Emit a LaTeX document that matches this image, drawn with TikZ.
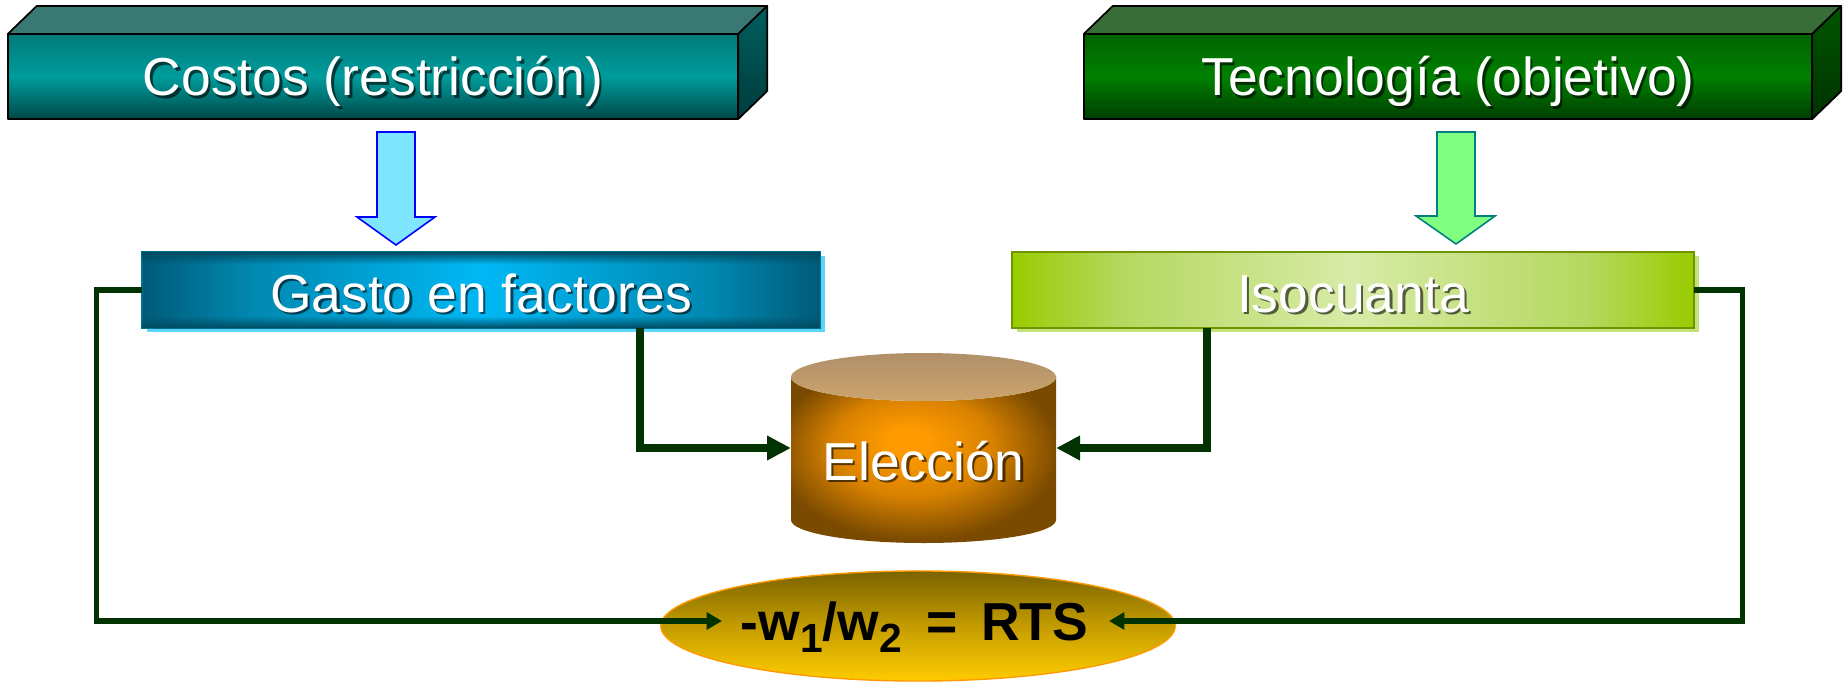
\documentclass[tikz,border=0pt]{standalone}
\usepackage{fontspec}
\setmainfont{Liberation Sans}
\usetikzlibrary{shapes.geometric,arrows.meta,calc,fadings,shadows}
\definecolor{conn}{HTML}{003300}
\definecolor{cTop}{HTML}{3A7874}
\definecolor{cFt}{HTML}{007A7A}
\definecolor{cFm}{HTML}{009C9C}
\definecolor{cFb}{HTML}{004848}
\definecolor{cSt}{HTML}{005E5E}
\definecolor{cSb}{HTML}{003C3C}
\definecolor{tTop}{HTML}{386D38}
\definecolor{tFt}{HTML}{006400}
\definecolor{tFm}{HTML}{008000}
\definecolor{tFb}{HTML}{003D00}
\definecolor{tSt}{HTML}{005500}
\definecolor{tSb}{HTML}{003300}
\definecolor{gA}{HTML}{005A78}
\definecolor{gB}{HTML}{0088B0}
\definecolor{gC}{HTML}{00B8F5}
\definecolor{gDark}{HTML}{004C62}
\definecolor{gBorder}{HTML}{00708C}
\definecolor{gShadow}{HTML}{5CD6F8}
\definecolor{iA}{HTML}{99CC00}
\definecolor{iB}{HTML}{B5D860}
\definecolor{iC}{HTML}{D8EBA8}
\definecolor{iBorder}{HTML}{6E9400}
\definecolor{iShadow}{HTML}{C5E27A}
\definecolor{rA}{HTML}{7A6300}
\definecolor{rB}{HTML}{C49C00}
\definecolor{rC}{HTML}{FFCC00}
\definecolor{rBorder}{HTML}{FF9900}
\definecolor{cA}{HTML}{FF9A00}
\definecolor{cB}{HTML}{D88200}
\definecolor{cC}{HTML}{7A4A00}
\definecolor{tanA}{HTML}{B0906A}
\definecolor{tanB}{HTML}{CCA46C}
\definecolor{blueFill}{HTML}{80E5FF}
\definecolor{blueLine}{HTML}{0000FF}
\definecolor{greenFill}{HTML}{80FF80}
\definecolor{greenLine}{HTML}{008080}
\pgfdeclarehorizontalshading{gastoshade}{100bp}{color(0bp)=(gA); color(25bp)=(gA); color(33bp)=(gB); color(50bp)=(gC); color(67bp)=(gB); color(75bp)=(gA); color(100bp)=(gA)}
\pgfdeclarehorizontalshading{isoshade}{100bp}{color(0bp)=(iA); color(25bp)=(iA); color(33bp)=(iB); color(50bp)=(iC); color(67bp)=(iB); color(75bp)=(iA); color(100bp)=(iA)}
\pgfdeclareradialshading{cylshade}{\pgfpoint{-3bp}{6bp}}{color(0bp)=(cA); color(4bp)=(cA); color(15bp)=(cB); color(27bp)=(cC); color(50bp)=(cC)}
\tikzfading[name=fadedown, top color=transparent!0, bottom color=transparent!100]
\tikzfading[name=fadeup, top color=transparent!100, bottom color=transparent!0]
\newcommand{\lowidx}[1]{\raisebox{-0.24em}{\fontsize{11.6}{12}\selectfont #1}}
\newcommand{\wlabel}[3]{%
  \node[stxt] (#1s) at ($(#2)+(2.5,2.5)$) {#3};
  \node[wtxt] (#1) at (#2) {#3};}
\tikzset{
  face/.style={draw=black, line width=0.5pt, line join=round},
  wtxt/.style={text=white, font=\fontsize{15.2}{18}\selectfont, inner sep=0pt, anchor=base},
  stxt/.style={text=black, text opacity=0.6, font=\fontsize{15.2}{18}\selectfont, inner sep=0pt, anchor=base},
  outerconn/.style={draw=conn, line width=1.5pt, -{Triangle[length=4.4pt,width=4.8pt]}},
  innerconn/.style={draw=conn, line width=2.3pt, -{Triangle[length=6.8pt,width=6.6pt]}},
  flatbox/.style={inner sep=0pt, outer sep=0pt, minimum height=0.76cm},
}
\begin{document}
\begin{tikzpicture}[x=0.01cm, y=-0.01cm]
\useasboundingbox (0,0) rectangle (1843,682);

% ---- Costos 3D box
\node[inner sep=0pt, outer sep=0pt, minimum width=7.30cm, minimum height=0.85cm,
      top color=cFt, bottom color=cFb, middle color=cFm, face] (costos) at (373,76.5) {};
\filldraw[fill=cTop, face] (costos.north west) -- ++(29,-28) -- ($(costos.north east)+(29,-28)$) -- (costos.north east) -- cycle;
\path[face, top color=cSt, bottom color=cSb] (costos.north east) -- ++(29,-28) -- ($(costos.south east)+(29,-28)$) -- (costos.south east) -- cycle;

% ---- Tecnologia 3D box
\node[inner sep=0pt, outer sep=0pt, minimum width=7.28cm, minimum height=0.85cm,
      top color=tFt, bottom color=tFb, middle color=tFm, face] (tec) at (1448,76.5) {};
\filldraw[fill=tTop, face] (tec.north west) -- ++(29,-28) -- ($(tec.north east)+(29,-28)$) -- (tec.north east) -- cycle;
\path[face, top color=tSt, bottom color=tSb] (tec.north east) -- ++(29,-28) -- ($(tec.south east)+(29,-28)$) -- (tec.south east) -- cycle;

% ---- block arrows
\filldraw[fill=blueFill, draw=blueLine, line width=0.45pt, line join=miter]
  (377,132) -- (415,132) -- (415,217) -- (435,217) -- (396,245) -- (357,217) -- (377,217) -- cycle;
\filldraw[fill=greenFill, draw=greenLine, line width=0.45pt, line join=miter]
  (1437,132) -- (1475,132) -- (1475,216) -- (1495,216) -- (1456,244) -- (1416,216) -- (1437,216) -- cycle;

% ---- Gasto box
\node[flatbox, minimum width=6.78cm, shade, shading=gastoshade, draw=gBorder, line width=0.4pt,
      general shadow={fill=gShadow, shadow xshift=0.05cm, shadow yshift=-0.04cm}] (gasto) at (481,290) {};
\fill[gDark, path fading=fadedown] (gasto.north west) rectangle ($(gasto.north east)+(0,12)$);
\fill[gDark, path fading=fadeup] ($(gasto.south west)+(0,-12)$) rectangle (gasto.south east);

% ---- Isocuanta box
\node[flatbox, minimum width=6.82cm, shade, shading=isoshade, draw=iBorder, line width=0.6pt,
      general shadow={fill=iShadow, shadow xshift=0.05cm, shadow yshift=-0.04cm}] (iso) at (1353,290) {};

% ---- cylinder
\node[inner sep=0pt, outer sep=0pt, minimum width=2.65cm, minimum height=1.90cm] (cyl) at (923.5,448) {};
\shade[shading=cylshade] (791,377) -- (791,520) arc[start angle=180, end angle=0, x radius=132.5, y radius=23]
  -- (1056,377) arc[start angle=0, end angle=180, x radius=132.5, y radius=24] -- cycle;
\shade[top color=tanA, bottom color=tanB] (923.5,377) ellipse[x radius=132.5, y radius=24];

% ---- RTS ellipse
\node[ellipse, inner sep=0pt, minimum width=5.14cm, minimum height=1.10cm,
      top color=rA, bottom color=rC, middle color=rB, draw=rBorder, line width=0.4pt] (rts) at (918,626) {};
\coordinate (rtsL) at (722,621);
\coordinate (rtsR) at (1109,621);

% ---- connectors
\draw[outerconn] (gasto.west) -- ++(-45.5,0) |- (rtsL);
\draw[outerconn] (iso.east) -- ++(48,0) |- (rtsR);
\draw[innerconn] ([xshift=1.59cm]gasto.south) |- (cyl.west);
\draw[innerconn] ([xshift=-1.46cm]iso.south) |- (cyl.east);

% ---- texts
\wlabel{costosT}{373,96}{Costos (restricción)}
\wlabel{tecT}{1448,96}{Tecnología (objetivo)}
\wlabel{gastoT}{481,312}{Gasto en factores}
\wlabel{isoT}{1353,312}{Isocuanta}
\wlabel{elecT}{923.5,480}{Elección}
\node[font=\bfseries\fontsize{15.2}{18}\selectfont, inner sep=0pt, anchor=base, text=black] (rtsT) at (914.5,640)
  {-w\lowidx{1}/w\lowidx{2}\hspace{0.45em}=\hspace{0.45em}RTS};
\end{tikzpicture}
\end{document}
